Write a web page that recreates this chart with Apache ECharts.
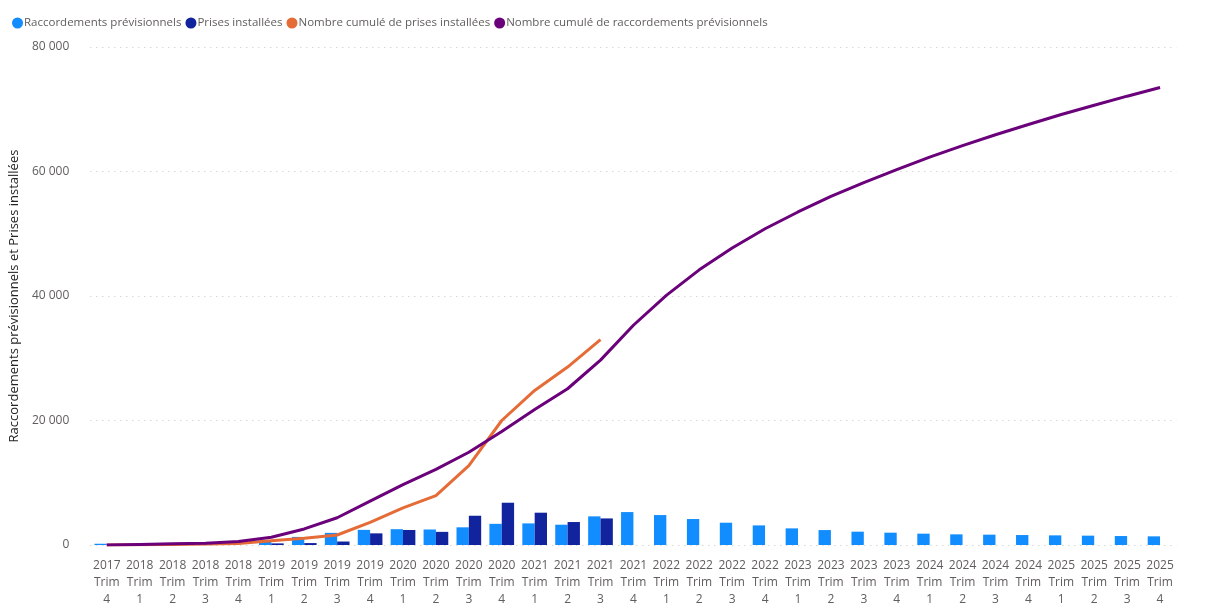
<!DOCTYPE html>
<html>
<head>
<meta charset="utf-8">
<script src="https://cdn.jsdelivr.net/npm/echarts@6/dist/echarts.min.js"></script>
<style>
html,body{margin:0;padding:0;background:#fff;}
#chart{width:1205px;height:608px;}
</style>
</head>
<body>
<div id="chart"></div>
<script>
const categories = [
  "2017 Trim 4",
  "2018 Trim 1","2018 Trim 2","2018 Trim 3","2018 Trim 4",
  "2019 Trim 1","2019 Trim 2","2019 Trim 3","2019 Trim 4",
  "2020 Trim 1","2020 Trim 2","2020 Trim 3","2020 Trim 4",
  "2021 Trim 1","2021 Trim 2","2021 Trim 3","2021 Trim 4",
  "2022 Trim 1","2022 Trim 2","2022 Trim 3","2022 Trim 4",
  "2023 Trim 1","2023 Trim 2","2023 Trim 3","2023 Trim 4",
  "2024 Trim 1","2024 Trim 2","2024 Trim 3","2024 Trim 4",
  "2025 Trim 1","2025 Trim 2","2025 Trim 3","2025 Trim 4"
];
const raccordementsPrevisionnels = [
  200, null, null, null, null,
  650, 1300, 1950, 2430,
  2540, 2490, 2840, 3400,
  3470, 3260, 4600, 5290,
  4810, 4170, 3580, 3150,
  2670, 2400, 2140, 1980,
  1820, 1710, 1660, 1600,
  1550, 1500, 1440, 1390
];
const prisesInstallees = [
  null, null, null, null, null,
  260, 310, 560, 1870,
  2410, 2110, 4700, 6790,
  5190, 3690, 4270, null,
  null, null, null, null,
  null, null, null, null,
  null, null, null, null,
  null, null, null, null
];
const cumulPrises = [
  0, 50, 100, 150, 250,
  700, 1080, 1610, 3640,
  5950, 7930, 12760, 20000,
  24830, 28580, 32990, null,
  null, null, null, null,
  null, null, null, null,
  null, null, null, null,
  null, null, null, null
];
const cumulRaccordements = [
  0, 100, 200, 300, 550,
  1250, 2580, 4380, 7050,
  9700, 12150, 14900, 18250,
  21750, 25100, 29700, 35300,
  40100, 44200, 47700, 50800,
  53500, 56000, 58200, 60300,
  62300, 64150, 65900, 67550,
  69150, 70650, 72100, 73500
];
const yTicks = [0, 20000, 40000, 60000, 80000];
</script>
<script>
const fmt = v => String(v).replace(/\B(?=(\d{3})+(?!\d))/g, ' ');
const chart = echarts.init(document.getElementById('chart'), null, {renderer: 'canvas'});
const font = "'Open Sans', 'Segoe UI', sans-serif";
chart.setOption({
  animation: false,
  textStyle: {fontFamily: font},
  color: ['#118DFF', '#12239E', '#E66C37', '#6B007B'],
  legend: {
    left: 7, top: 12,
    icon: 'circle', itemWidth: 11, itemHeight: 11, itemGap: 4,
    textStyle: {color: '#605E5C', fontSize: 11.5, fontFamily: font, padding: [0, 0, 0, -4]},
    data: ['Raccordements prévisionnels', 'Prises installées', 'Nombre cumulé de prises installées', 'Nombre cumulé de raccordements prévisionnels']
  },
  grid: {left: 88.5, right: 28.5, top: 47, bottom: 60, containLabel: false},
  xAxis: {
    type: 'category',
    data: categories,
    axisLine: {show: false},
    axisTick: {show: false},
    axisLabel: {
      interval: 0, color: '#605E5C', fontSize: 12, lineHeight: 17, margin: 12,
      formatter: v => v.split(' ').join('\n')
    }
  },
  yAxis: {
    type: 'value', min: yTicks[0], max: yTicks[yTicks.length - 1], interval: yTicks[1] - yTicks[0],
    name: 'Raccordements prévisionnels et Prises installées',
    nameLocation: 'middle', nameGap: 66, nameRotate: 90,
    nameTextStyle: {color: '#252423', fontSize: 13, fontFamily: font},
    axisLabel: {color: '#605E5C', fontSize: 12, margin: 21, formatter: v => fmt(v)},
    splitLine: {lineStyle: {color: '#C8C6C4', type: [1, 5], width: 1}},
    axisLine: {show: false}, axisTick: {show: false}
  },
  series: [
    {name: 'Raccordements prévisionnels', type: 'bar', data: raccordementsPrevisionnels, barGap: '0%', barCategoryGap: '25%', itemStyle: {color: '#118DFF'}},
    {name: 'Prises installées', type: 'bar', data: prisesInstallees, barGap: '0%', barCategoryGap: '25%', itemStyle: {color: '#12239E'}},
    {name: 'Nombre cumulé de prises installées', type: 'line', data: cumulPrises, showSymbol: false, symbol: 'none', lineStyle: {width: 3, color: '#E66C37'}, itemStyle: {color: '#E66C37'}},
    {name: 'Nombre cumulé de raccordements prévisionnels', type: 'line', data: cumulRaccordements, showSymbol: false, symbol: 'none', lineStyle: {width: 3, color: '#6B007B'}, itemStyle: {color: '#6B007B'}}
  ]
});
</script>
</body>
</html>
